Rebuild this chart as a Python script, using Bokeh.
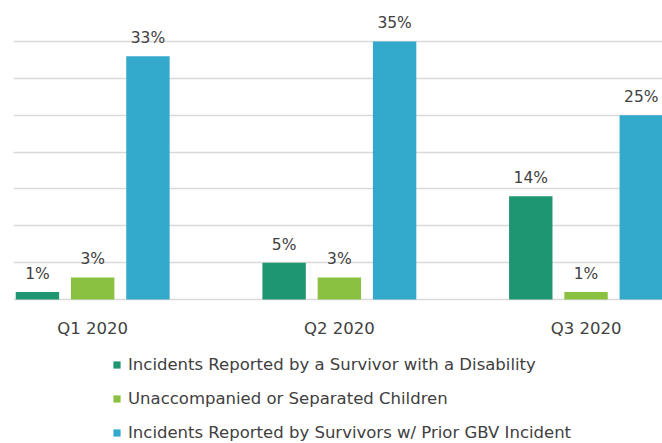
from bokeh.plotting import figure
from bokeh.models import ColumnDataSource, Range1d, FixedTicker, Legend, LegendItem
from bokeh.core.properties import value
from bokeh.embed import file_html
from bokeh.resources import INLINE

quarters = ["Q1 2020", "Q2 2020", "Q3 2020"]
series_names = [
    "Incidents Reported by a Survivor with a Disability",
    "Unaccompanied or Separated Children",
    "Incidents Reported by Survivors w/ Prior GBV Incident",
]
disability = [1, 5, 14]
children = [3, 3, 1]
prior_gbv = [33, 35, 25]
colors = ["#1f9672", "#8bc140", "#33aacc"]
y_ticks = [0, 5, 10, 15, 20, 25, 30, 35]

FONT = "DejaVu Sans"
offsets = [-0.224, 0.0, 0.224]
bar_w = 0.176

p = figure(width=662, height=443, output_backend="svg", toolbar_location=None,
           x_range=Range1d(-0.321, 2.31), y_range=Range1d(-19.536, 40.56),
           min_border_left=13, min_border_right=0, min_border_top=0,
           min_border_bottom=0)
p.outline_line_color = None
p.background_fill_color = "white"
p.border_fill_color = "white"

renderers = []
for vals, off, col in zip([disability, children, prior_gbv], offsets, colors):
    src = ColumnDataSource(dict(
        x=[i + off for i in range(len(quarters))],
        top=vals,
        lbl=[f"{v}%" for v in vals],
    ))
    r = p.vbar(x="x", top="top", width=bar_w, bottom=0, source=src,
               fill_color=col, line_color=None)
    renderers.append(r)
    p.text(x="x", y="top", text="lbl", source=src, text_align="center",
           text_baseline="bottom", y_offset=-9, text_font=value(FONT),
           text_font_size="15.5px", text_color="#404040")

p.yaxis.visible = False
p.ygrid.ticker = FixedTicker(ticks=y_ticks)
p.ygrid.grid_line_color = "#d9d9d9"
p.ygrid.grid_line_width = 1.5
p.xgrid.visible = False

p.xaxis.fixed_location = 0
p.xaxis.ticker = FixedTicker(ticks=[0, 1, 2])
p.xaxis.major_label_overrides = {0: quarters[0], 1: quarters[1], 2: quarters[2]}
p.xaxis.axis_line_color = None
p.xaxis.major_tick_line_color = None
p.xaxis.minor_tick_line_color = None
p.xaxis.major_label_standoff = 14
p.xaxis.major_label_text_font = FONT
p.xaxis.major_label_text_font_size = "16.5px"
p.xaxis.major_label_text_color = "#404040"

legend = Legend(
    items=[LegendItem(label=n, renderers=[r]) for n, r in zip(series_names, renderers)],
    location=(99, 0), orientation="vertical",
    glyph_width=9, glyph_height=9, label_standoff=7,
    label_text_font=FONT, label_text_font_size="16.5px", label_text_color="#404040",
    label_height=21, spacing=13, padding=0, margin=0,
    border_line_color=None, background_fill_alpha=0,
)
p.add_layout(legend, "center")

open("out.html", "w").write(file_html(p, INLINE))
